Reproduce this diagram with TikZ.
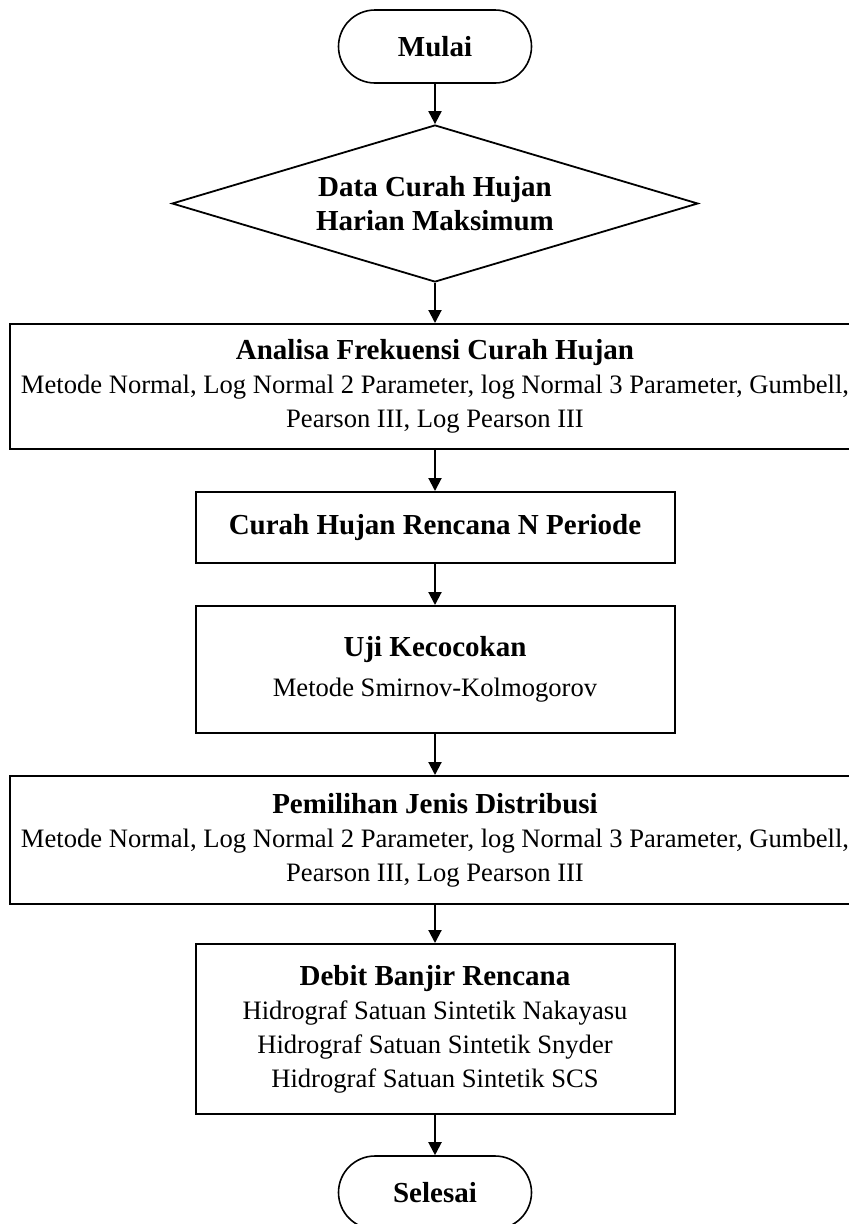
\documentclass[tikz,border=0pt]{standalone}
\usepackage{fontspec}
\setmainfont{Liberation Serif}
\usetikzlibrary{shapes.geometric,arrows.meta}
\tikzset{
  base/.style={draw=black, line width=2pt, align=center, inner sep=0pt,
    font=\fontsize{26.6}{34}\selectfont},
  term/.style={base, line width=1.6pt, minimum width=193pt, minimum height=73pt, rounded corners=36.5pt},
  decide/.style={base, line width=1.8pt, diamond, aspect=3.35, minimum width=526pt, minimum height=157pt},
  proc/.style={base, rectangle},
  conn/.style={line width=2pt, -{Triangle[length=13pt,width=13pt]}}
}
\newcommand{\hd}[1]{{\bfseries\fontsize{29}{34}\selectfont #1}}
\begin{document}
\begin{tikzpicture}[x=1pt,y=-1pt]
\useasboundingbox (0,0) rectangle (849,1224);
\clip (0,0) rectangle (849,1224);
\node[term] (start) at (435,46.5) {\hd{Mulai}};
\node[decide] (data) at (435,203.5) {\hd{Data Curah Hujan}\\\hd{Harian Maksimum}};
\node[proc, minimum width=850pt, minimum height=125pt] (afch) at (435,386.5)
  {\hd{Analisa Frekuensi Curah Hujan}\\
   Metode Normal, Log Normal 2 Parameter, log Normal 3 Parameter, Gumbell,\\
   Pearson III, Log Pearson III};
\node[proc, minimum width=479pt, minimum height=71pt] (chr) at (435,527.5)
  {\hd{Curah Hujan Rencana N Periode}};
\node[proc, minimum width=479pt, minimum height=127pt] (uji) at (435,669.5)
  {\hd{Uji Kecocokan}\\[6pt] Metode Smirnov-Kolmogorov};
\node[proc, minimum width=850pt, minimum height=128pt] (pjd) at (435,840)
  {\hd{Pemilihan Jenis Distribusi}\\
   Metode Normal, Log Normal 2 Parameter, log Normal 3 Parameter, Gumbell,\\
   Pearson III, Log Pearson III};
\node[proc, minimum width=479pt, minimum height=170pt] (dbr) at (435,1029)
  {\hd{Debit Banjir Rencana}\\
   Hidrograf Satuan Sintetik Nakayasu\\
   Hidrograf Satuan Sintetik Snyder\\
   Hidrograf Satuan Sintetik SCS};
\node[term] (stop) at (435,1192.5) {\hd{Selesai}};
\draw[conn] (start) -- (data);
\draw[conn] (data) -- (afch);
\draw[conn] (afch) -- (chr);
\draw[conn] (chr) -- (uji);
\draw[conn] (uji) -- (pjd);
\draw[conn] (pjd) -- (dbr);
\draw[conn] (dbr) -- (stop);
\end{tikzpicture}
\end{document}
